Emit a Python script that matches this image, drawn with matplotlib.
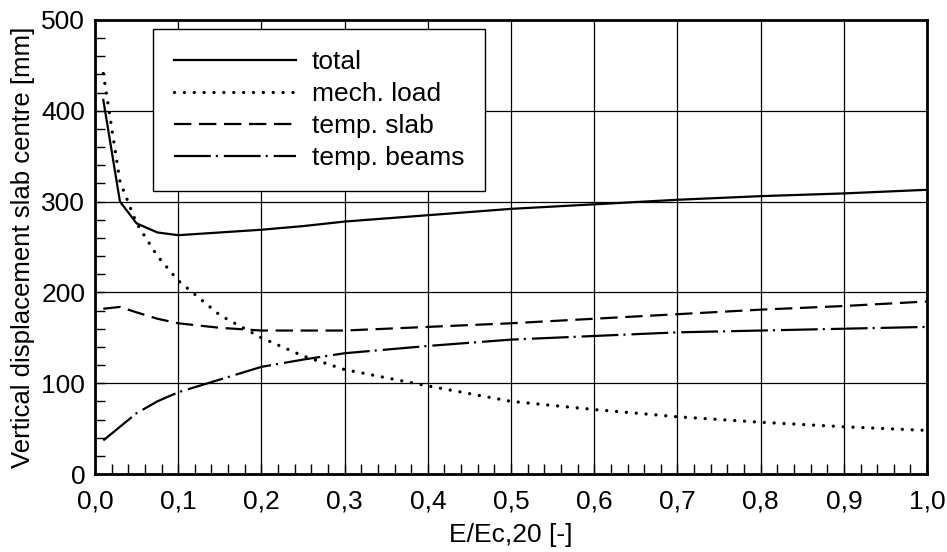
import matplotlib
matplotlib.use("Agg")
import matplotlib.pyplot as plt
from matplotlib.ticker import MultipleLocator, FuncFormatter

# Stiffness ratio E/Ec,20 and displacement components [mm]
ratio = [0.01, 0.03, 0.05, 0.075, 0.1, 0.15, 0.2, 0.25, 0.3, 0.4, 0.5, 0.6, 0.7, 0.8, 0.9, 1.0]
total = [412, 300, 276, 266, 263, 266, 269, 273, 278, 285, 292, 297, 302, 306, 309, 313]
mech_load = [441, 322, 276, 240, 213, 175, 150, 130, 115, 97, 80, 71, 63, 57, 52, 48]
temp_slab = [182, 184, 178, 171, 166, 161, 158, 158, 158, 162, 166, 171, 176, 181, 185, 190]
temp_beams = [37, 52, 67, 80, 90, 104, 118, 126, 133, 141, 148, 152, 156, 158, 160, 162]

series_labels = ["total", "mech. load", "temp. slab", "temp. beams"]

plt.rcParams["font.family"] = ["Liberation Sans", "DejaVu Sans"]
plt.rcParams["lines.scale_dashes"] = False

FS = 19

fig = plt.figure(figsize=(9.47, 5.52), dpi=100)
fig.subplots_adjust(left=0.1003, right=0.979, top=0.9638, bottom=0.1413)
ax = fig.add_subplot(111)

lw = 1.6
ax.plot(ratio, total, color="black", lw=lw, ls="-", label=series_labels[0])
ax.plot(ratio, mech_load, color="black", lw=2.4, dashes=(0.01, 7.1),
        dash_capstyle="round", label=series_labels[1])
ax.plot(ratio, temp_slab, color="black", lw=lw, dashes=(12.5, 5.5),
        dash_capstyle="butt", label=series_labels[2])
ax.plot(ratio, temp_beams, color="black", lw=lw, dashes=(26.5, 3.6, 1.5, 4.3),
        dash_capstyle="butt", label=series_labels[3])

ax.set_xlim(0, 1.0)
ax.set_ylim(0, 500)
ax.xaxis.set_major_locator(MultipleLocator(0.1))
ax.xaxis.set_minor_locator(MultipleLocator(0.02))
ax.yaxis.set_major_locator(MultipleLocator(100))
ax.yaxis.set_minor_locator(MultipleLocator(20))
ax.xaxis.set_major_formatter(FuncFormatter(lambda v, p: f"{v:.1f}".replace(".", ",")))
ax.yaxis.set_major_formatter(FuncFormatter(lambda v, p: f"{v:.0f}"))

ax.grid(True, which="major", color="black", lw=0.9)
ax.set_axisbelow(True)

ax.tick_params(axis="both", which="both", direction="in", top=False, right=False,
               labelsize=FS, color="black")
ax.tick_params(axis="both", which="both", length=7, width=1)
ax.tick_params(axis="x", which="major", pad=11)
ax.tick_params(axis="y", which="major", pad=7)

for s in ax.spines.values():
    s.set_linewidth(2)
    s.set_color("black")

ax.set_xlabel("E/Ec,20 [-]", fontsize=FS)
ax.set_ylabel("Vertical displacement slab centre [mm]", fontsize=18.5)
ax.xaxis.set_label_coords(0.5, -0.108)
ax.yaxis.set_label_coords(-0.072, 0.5)

leg = ax.legend(loc="upper left", bbox_to_anchor=(0.07, 0.98), fontsize=FS,
                handlelength=4.6, handletextpad=0.6, labelspacing=0.3,
                borderpad=0.8, borderaxespad=0, fancybox=False, framealpha=1,
                edgecolor="black")
leg.get_frame().set_linewidth(1.0)

fig.savefig("out.png", dpi=100)
